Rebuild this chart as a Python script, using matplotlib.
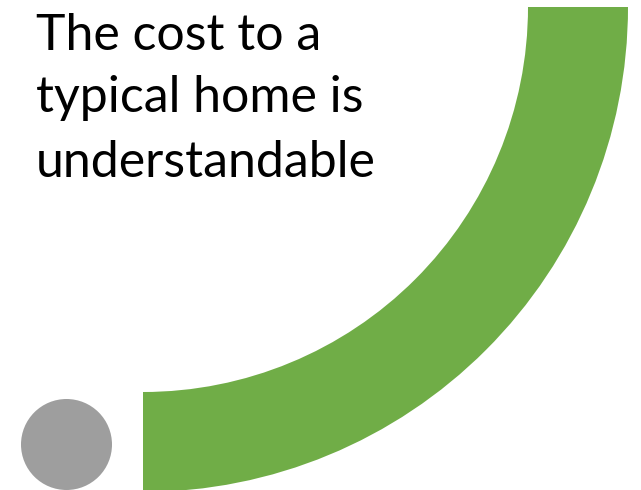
import matplotlib
matplotlib.use("Agg")
import matplotlib.pyplot as plt
from matplotlib.patches import Circle

# Data
title_lines = ["The cost to a", "typical home is", "understandable"]
ring_values = [25, 75]          # filled share of the gauge vs. empty remainder
ring_colors = ["#70ad47", "none"]
marker_color = "#9e9e9e"

W, H = 641, 490
fig = plt.figure(figsize=(W / 100, H / 100), dpi=100)
ax = fig.add_axes([0, 0, 1, 1])
ax.set_xlim(0, W)
ax.set_ylim(0, H)
ax.set_aspect("equal")
ax.axis("off")

# Quarter ring (gauge) centred near the top-left
cx, cy = 143, H - 7
outer_r = 485
ring_w = 100
ax.pie(ring_values, colors=ring_colors, startangle=-90, counterclock=True,
       radius=outer_r, center=(cx, cy), frame=True,
       wedgeprops=dict(width=ring_w, linewidth=0))
ax.set_xlim(0, W)
ax.set_ylim(0, H)
ax.axis("off")

# Grey marker dot
ax.add_patch(Circle((66.5, H - 444.5), 45.5, color=marker_color, lw=0))

# Title text
baselines = [50, 112, 177]
for line, b in zip(title_lines, baselines):
    ax.text(36, H - b, line, fontsize=36, family=["Lato", "DejaVu Sans"],
            color="black", ha="left", va="baseline")

fig.savefig("out.png", dpi=100)
